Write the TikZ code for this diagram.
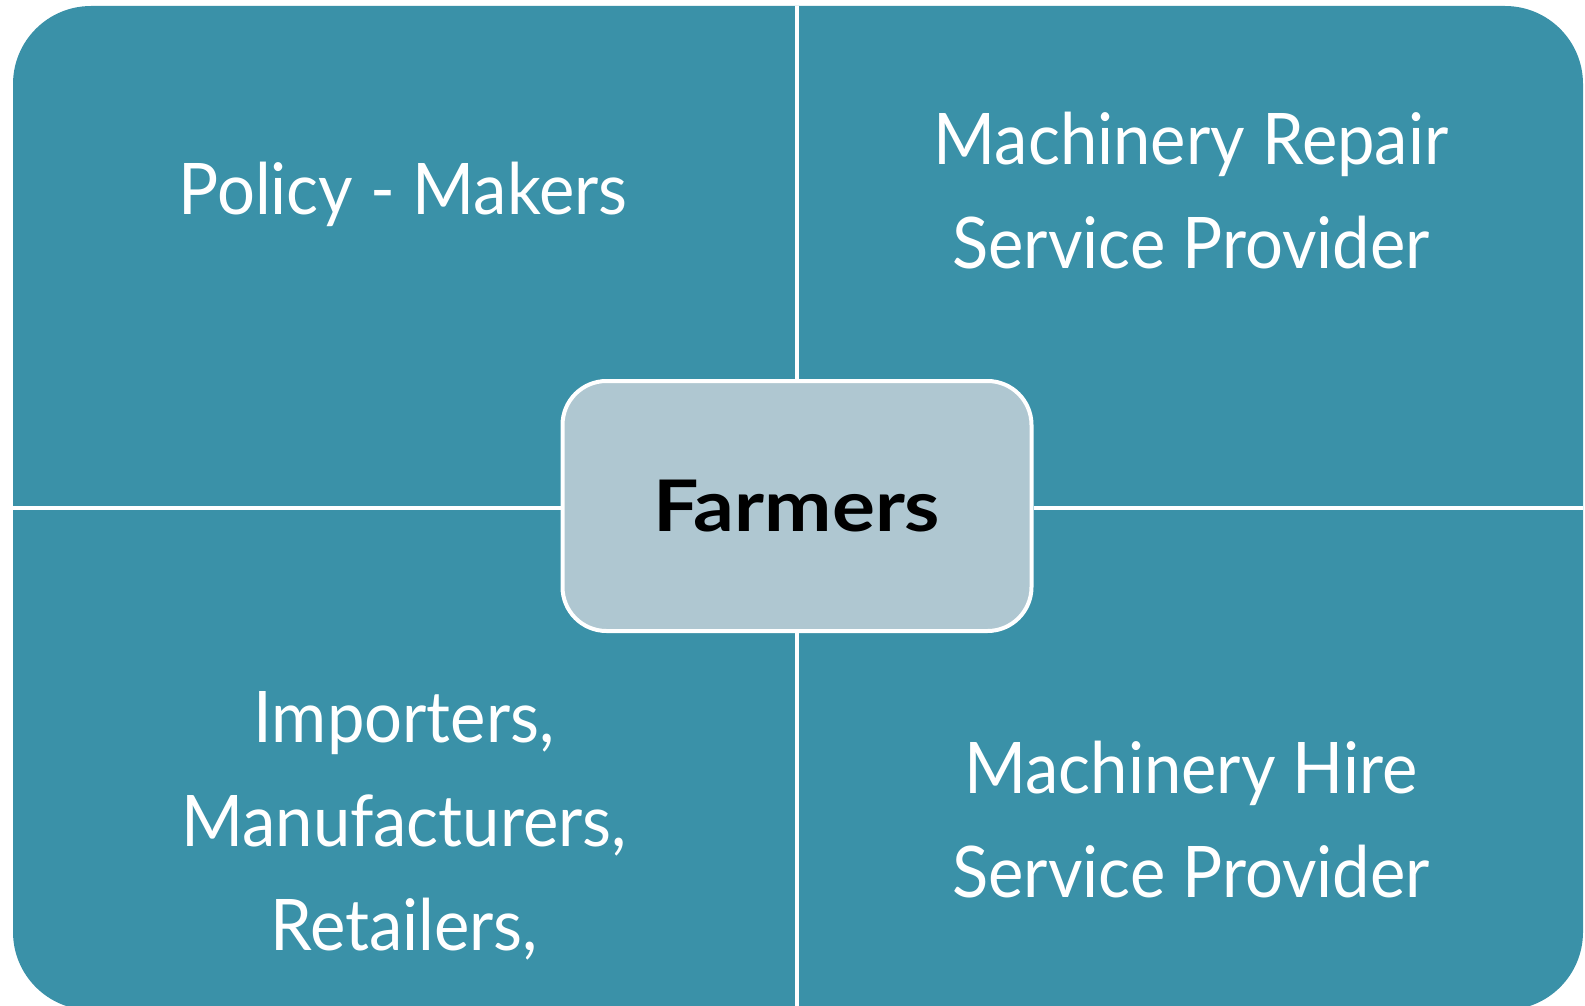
\documentclass[tikz,border=0pt]{standalone}
\usepackage{fontspec}
\setmainfont{Lato}[FakeStretch=0.94, BoldFeatures={FakeStretch=1.13}]
\definecolor{quad}{HTML}{3A91A8}
\definecolor{hub}{HTML}{AFC7D1}
\begin{document}
\begin{tikzpicture}[x=0.5pt, y=-0.5pt,
	label/.style={text=white, align=center, anchor=base, font=\fontsize{35.6}{52}\selectfont},
	divider/.style={white, line width=2pt}]
\useasboundingbox (0,0) rectangle (1585,1006);
\fill[quad, rounded corners=39pt] (13,6) rectangle (1583,1010);

\node[draw=white, line width=2pt, fill=hub, rounded corners=22pt, minimum width=234.5pt, minimum height=125pt,
	font=\fontsize{35.6}{52}\selectfont\bfseries] (farmers) at (797,506) {Farmers};

\coordinate (top) at (797,6);
\coordinate (bottom) at (797,1010);
\coordinate (left) at (13,508);
\coordinate (right) at (1583,508);
\draw[divider] (top) -- (farmers.north);
\draw[divider] (farmers.south) -- (bottom);
\draw[divider] (left) -- (left-|farmers.west);
\draw[divider] (right-|farmers.east) -- (right);

% base = last line
\node[label] (policy) at (403,214) {Policy - Makers};
\node[label] (repair) at (1191,268) {Machinery Repair\\Service Provider};
\node[label] (importers) at (404,950) {Importers,\\Manufacturers,\\Retailers,};
\node[label] (hire) at (1191,897) {Machinery Hire\\Service Provider};
\end{tikzpicture}
\end{document}
